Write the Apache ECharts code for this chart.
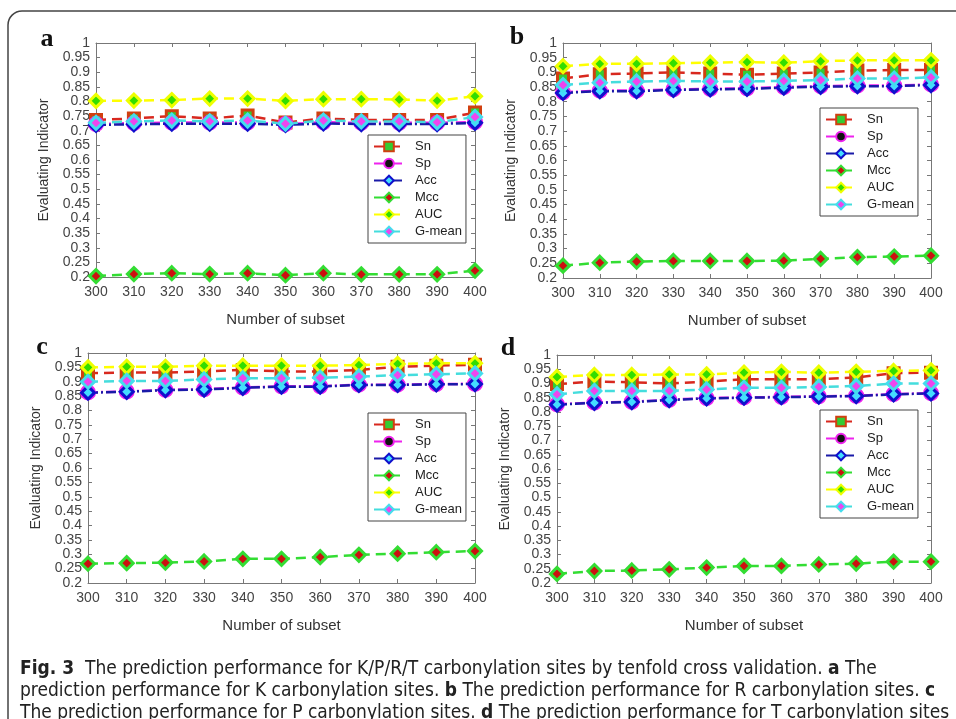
<!DOCTYPE html>
<html><head><meta charset="utf-8">
<script src="https://cdn.jsdelivr.net/npm/echarts@6/dist/echarts.min.js"></script>
<style>html,body{margin:0;padding:0;background:#fff;}#c{width:956px;height:719px;}</style>
</head><body><div id="c"></div>
<script>
const subsets = [300, 310, 320, 330, 340, 350, 360, 370, 380, 390, 400];
const metricNames = ['Sn', 'Sp', 'Acc', 'Mcc', 'AUC', 'G-mean'];
const panelLetters = ['a', 'b', 'c', 'd'];
const xAxisTitle = 'Number of subset';
const yAxisTitle = 'Evaluating Indicator';

// Panel a (K sites)
const aSn   = [0.737, 0.742, 0.750, 0.742, 0.752, 0.728, 0.742, 0.737, 0.737, 0.737, 0.762];
const aSp   = [0.723, 0.726, 0.728, 0.728, 0.728, 0.723, 0.729, 0.727, 0.727, 0.727, 0.730];
const aAcc  = [0.720, 0.722, 0.724, 0.724, 0.724, 0.720, 0.725, 0.723, 0.723, 0.723, 0.727];
const aMcc  = [0.203, 0.210, 0.213, 0.210, 0.213, 0.206, 0.213, 0.209, 0.209, 0.209, 0.222];
const aAUC  = [0.802, 0.803, 0.805, 0.810, 0.810, 0.802, 0.808, 0.808, 0.807, 0.803, 0.818];
const aGmean= [0.727, 0.732, 0.735, 0.732, 0.735, 0.724, 0.735, 0.732, 0.732, 0.729, 0.747];

// Panel b (R sites)
const bSn   = [0.879, 0.894, 0.896, 0.900, 0.896, 0.892, 0.896, 0.900, 0.906, 0.908, 0.908];
const bSp   = [0.832, 0.838, 0.838, 0.842, 0.844, 0.846, 0.850, 0.853, 0.855, 0.855, 0.859];
const bAcc  = [0.830, 0.836, 0.836, 0.840, 0.842, 0.844, 0.848, 0.851, 0.853, 0.853, 0.857];
const bMcc  = [0.242, 0.252, 0.256, 0.258, 0.258, 0.258, 0.259, 0.265, 0.271, 0.273, 0.276];
const bAUC  = [0.921, 0.929, 0.929, 0.931, 0.933, 0.935, 0.933, 0.938, 0.941, 0.941, 0.941];
const bGmean= [0.857, 0.865, 0.869, 0.871, 0.869, 0.869, 0.871, 0.874, 0.879, 0.879, 0.883];

// Panel c (P sites)
const cSn   = [0.930, 0.932, 0.932, 0.936, 0.941, 0.936, 0.936, 0.941, 0.952, 0.956, 0.959];
const cSp   = [0.863, 0.866, 0.872, 0.874, 0.880, 0.884, 0.884, 0.890, 0.890, 0.892, 0.893];
const cAcc  = [0.862, 0.865, 0.871, 0.873, 0.879, 0.883, 0.883, 0.889, 0.889, 0.891, 0.892];
const cMcc  = [0.267, 0.269, 0.271, 0.275, 0.284, 0.284, 0.290, 0.298, 0.302, 0.307, 0.311];
const cAUC  = [0.950, 0.952, 0.952, 0.956, 0.956, 0.956, 0.956, 0.958, 0.962, 0.964, 0.964];
const cGmean= [0.900, 0.903, 0.903, 0.908, 0.912, 0.912, 0.914, 0.918, 0.923, 0.926, 0.929];

// Panel d (T sites)
const dSn   = [0.898, 0.907, 0.904, 0.900, 0.907, 0.915, 0.915, 0.915, 0.921, 0.936, 0.938];
const dSp   = [0.827, 0.833, 0.836, 0.843, 0.849, 0.851, 0.853, 0.855, 0.857, 0.863, 0.866];
const dAcc  = [0.826, 0.832, 0.835, 0.842, 0.848, 0.850, 0.852, 0.854, 0.856, 0.862, 0.865];
const dMcc  = [0.232, 0.242, 0.244, 0.248, 0.254, 0.260, 0.260, 0.265, 0.268, 0.275, 0.275];
const dAUC  = [0.923, 0.930, 0.930, 0.932, 0.932, 0.938, 0.941, 0.938, 0.941, 0.944, 0.946];
const dGmean= [0.862, 0.874, 0.874, 0.874, 0.879, 0.885, 0.885, 0.888, 0.891, 0.900, 0.900];

const yTickValues = { min: 0.2, max: 1, interval: 0.05 };
const xTickValues = { min: 300, max: 400, interval: 10 };

const panelData = [
  [aSn, aSp, aAcc, aMcc, aAUC, aGmean],
  [bSn, bSp, bAcc, bMcc, bAUC, bGmean],
  [cSn, cSp, cAcc, cMcc, cAUC, cGmean],
  [dSn, dSp, dAcc, dMcc, dAUC, dGmean]
];

// ---- styling ----
const FONT = '"Liberation Sans", Arial, sans-serif';
const grids = [
  { left: 96,  top: 43,  width: 379, height: 234 },
  { left: 563, top: 43,  width: 368, height: 235 },
  { left: 88,  top: 353, width: 387, height: 230 },
  { left: 557, top: 355, width: 374, height: 228 }
];
const legendPos = [
  { left: 368, top: 135 },
  { left: 820, top: 108 },
  { left: 368, top: 413 },
  { left: 820, top: 410 }
];
const letterPos = [[47, 39], [517, 37], [42, 347], [508, 348]];
const metricStyle = {
  'Sn':     { line: '#d8281e', dash: [10, 6],       symbol: 'rect',    fill: '#33cc33', border: '#d04010' },
  'Sp':     { line: '#ee22ee', dash: [10, 3, 2, 3], symbol: 'circle',  fill: '#111111', border: '#ee22ee' },
  'Acc':    { line: '#1a1aa8', dash: [10, 3, 2, 3], symbol: 'diamond', fill: '#44ddff', border: '#1010cc' },
  'Mcc':    { line: '#33dd33', dash: [10, 6],       symbol: 'diamond', fill: '#cc1010', border: '#33dd33' },
  'AUC':    { line: '#ffff00', dash: [10, 6],       symbol: 'diamond', fill: '#33dd00', border: '#eeff00' },
  'G-mean': { line: '#44dddd', dash: [10, 6],       symbol: 'diamond', fill: '#ee44ee', border: '#44ddee' }
};

const axisLineStyle = { lineStyle: { color: '#777', width: 1 } };
const xAxes = [], yAxes = [], series = [], legends = [], graphics = [];

grids.forEach((g, i) => {
  xAxes.push({
    type: 'value', gridIndex: i, min: xTickValues.min, max: xTickValues.max, interval: xTickValues.interval,
    position: 'bottom',
    name: xAxisTitle, nameLocation: 'middle', nameGap: 35,
    nameTextStyle: { fontFamily: FONT, fontSize: 15, color: '#333' },
    axisLine: axisLineStyle, axisTick: { inside: true, length: 4, lineStyle: { color: '#777' } },
    axisLabel: { fontFamily: FONT, fontSize: 14, color: '#444', margin: 8 },
    splitLine: { show: false }
  });
  xAxes.push({
    type: 'value', gridIndex: i, min: xTickValues.min, max: xTickValues.max, interval: xTickValues.interval,
    position: 'top',
    axisLine: axisLineStyle, axisTick: { inside: true, length: 4, lineStyle: { color: '#777' } },
    axisLabel: { show: false }, splitLine: { show: false }
  });
  yAxes.push({
    type: 'value', gridIndex: i, min: yTickValues.min, max: yTickValues.max, interval: yTickValues.interval,
    position: 'left',
    name: yAxisTitle, nameLocation: 'middle', nameGap: 45,
    nameTextStyle: { fontFamily: FONT, fontSize: 14, color: '#333' },
    axisLine: { show: true, lineStyle: { color: '#777', width: 1 } },
    axisTick: { show: true, inside: true, length: 4, lineStyle: { color: '#777' } },
    axisLabel: { fontFamily: FONT, fontSize: 14, color: '#444', margin: 6,
      formatter: v => String(+v.toFixed(2)) },
    splitLine: { show: false }
  });
  yAxes.push({
    type: 'value', gridIndex: i, min: yTickValues.min, max: yTickValues.max, interval: yTickValues.interval,
    position: 'right',
    axisLine: { show: true, lineStyle: { color: '#777', width: 1 } },
    axisTick: { show: true, inside: true, length: 4, lineStyle: { color: '#777' } },
    axisLabel: { show: false }, splitLine: { show: false }
  });

  metricNames.forEach((m, k) => {
    const s = metricStyle[m];
    series.push({
      name: m, type: 'line', xAxisIndex: 2 * i, yAxisIndex: 2 * i,
      data: subsets.map((x, j) => [x, panelData[i][k][j]]),
      symbol: s.symbol, symbolSize: m === 'Sn' ? 11 : 13,
      showAllSymbol: true,
      lineStyle: { color: s.line, width: 2.5, type: s.dash },
      itemStyle: { color: s.fill, borderColor: s.border, borderWidth: 3 },
      emphasis: { disabled: true },
      animation: false
    });
  });

  legends.push({
    orient: 'vertical', left: legendPos[i].left, top: legendPos[i].top,
    data: metricNames, itemWidth: 30, itemHeight: 12, itemGap: 4,
    textStyle: { fontFamily: FONT, fontSize: 13, color: '#222', padding: [0, 0, 0, 6] },
    backgroundColor: '#fff', borderColor: '#444', borderWidth: 1, borderRadius: 0,
    padding: [5, 4, 5, 5], selectedMode: false
  });

  graphics.push({
    type: 'text', x: letterPos[i][0], y: letterPos[i][1],
    style: { text: panelLetters[i], font: 'bold 26px "Liberation Serif", "Times New Roman", serif',
      fill: '#111', align: 'center', verticalAlign: 'middle' }
  });
});

// outer frame
graphics.push({
  type: 'rect', shape: { x: 8, y: 11, width: 980, height: 740, r: [14, 0, 0, 0] },
  style: { fill: 'none', stroke: '#444', lineWidth: 1.5 }, silent: true
});

const CAP_FONT = '"Liberation Sans Narrow", "DejaVu Sans Condensed", "Liberation Sans", sans-serif';
const capRich = {
  b: { fontFamily: CAP_FONT, fontSize: 19, fontWeight: 'bold', fill: '#222' },
  t: { fontFamily: CAP_FONT, fontSize: 19, fill: '#222' }
};
const captionLines = [
  '{b|Fig. 3}{t|  The prediction performance for K/P/R/T carbonylation sites by tenfold cross validation. }{b|a}{t| The}',
  '{t|prediction performance for K carbonylation sites. }{b|b}{t| The prediction performance for R carbonylation sites. }{b|c}',
  '{t|The prediction performance for P carbonylation sites. }{b|d}{t| The prediction performance for T carbonylation sites}'
];
captionLines.forEach((t, i) => {
  graphics.push({
    type: 'text', x: 20, y: 669 + i * 22,
    style: { text: t, rich: capRich, fontFamily: CAP_FONT, fontSize: 19, fill: '#222', verticalAlign: 'middle' }
  });
});

const chart = echarts.init(document.getElementById('c'), null, { renderer: 'canvas' });
chart.setOption({
  backgroundColor: '#fff',
  animation: false,
  grid: grids.map(g => Object.assign({ containLabel: false }, g)),
  xAxis: xAxes,
  yAxis: yAxes,
  legend: legends,
  series: series,
  graphic: graphics
});
</script>
</body></html>
